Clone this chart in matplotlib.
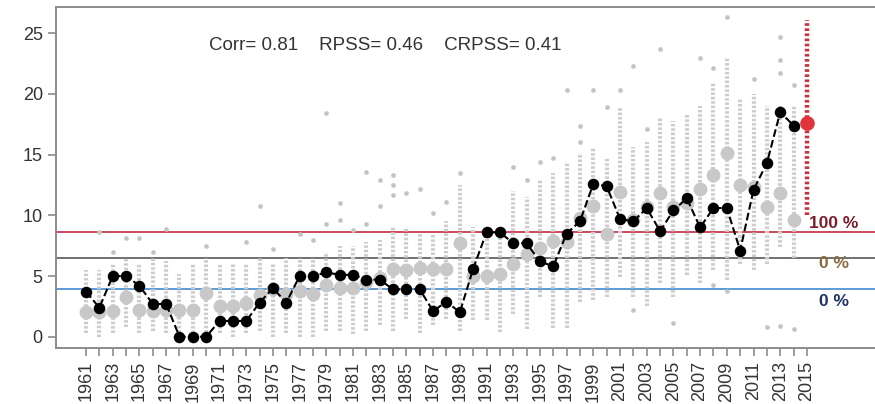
import numpy as np
import matplotlib
matplotlib.use('Agg')
import matplotlib.pyplot as plt

plt.rcParams['font.family'] = ['Liberation Sans', 'DejaVu Sans']

# observed index, 1961-2014
years = np.arange(1961, 2015)
obs = [3.7, 2.4, 5.0, 5.0, 4.2, 2.7, 2.7, 0.0, 0.0, 0.0,
       1.3, 1.3, 1.3, 2.8, 4.0, 2.8, 5.0, 5.0, 5.3, 5.1,
       5.1, 4.7, 4.7, 3.9, 3.9, 3.9, 2.1, 2.9, 2.0, 5.6,
       8.6, 8.6, 7.7, 7.7, 6.2, 5.8, 8.5, 9.5, 12.6, 12.4,
       9.7, 9.5, 10.6, 8.7, 10.4, 11.4, 9.0, 10.6, 10.6, 7.1,
       12.1, 14.3, 18.5, 17.4]

# hindcast ensemble: mean and the dense part of the spread
ens_mean = [2.0, 2.0, 2.1, 3.3, 2.2, 2.1, 2.2, 2.2, 2.2, 3.6,
            2.5, 2.5, 2.8, 3.4, 3.9, 3.5, 3.8, 3.5, 4.3, 4.0,
            4.0, 4.5, 4.8, 5.6, 5.5, 5.7, 5.6, 5.6, 7.7, 5.0,
            5.0, 5.2, 6.0, 6.8, 7.3, 7.9, 7.8, 9.8, 10.8, 8.5,
            11.9, 9.6, 10.7, 11.8, 10.7, 11.0, 12.2, 13.3, 15.1, 12.5,
            12.3, 10.7, 11.8, 9.6]
ens_lo = [0.3, 0.0, 0.3, 0.8, 0.3, 0.5, 0.3, 0.0, 0.3, 0.0,
          0.3, 0.0, 0.3, 0.5, 0.0, 0.3, 0.0, 0.0, 0.5, 0.5,
          0.2, 0.5, 1.0, 0.5, 1.5, 0.3, 1.0, 1.5, 0.5, 1.4,
          1.4, 0.4, 1.9, 0.6, 3.3, 0.7, 0.7, 2.9, 3.0, 3.3,
          4.9, 3.3, 2.5, 4.4, 3.3, 5.1, 4.4, 5.5, 4.7, 6.0,
          5.5, 6.0, 7.4, 6.5]
ens_hi = [5.5, 5.5, 6.0, 6.5, 6.0, 6.5, 6.2, 5.2, 6.0, 6.5,
          6.0, 6.0, 6.0, 6.5, 6.0, 6.5, 6.5, 6.5, 7.0, 7.5,
          7.5, 7.8, 8.0, 9.0, 9.0, 8.5, 8.5, 9.5, 12.5, 9.0,
          8.5, 9.0, 12.0, 11.5, 13.0, 13.5, 14.4, 15.1, 15.6, 14.8,
          18.9, 15.6, 16.0, 18.1, 17.8, 18.3, 19.0, 21.0, 23.0, 19.7,
          20.0, 19.0, 19.0, 19.0]

# single members lying apart from the rest
out_year = [1962, 1963, 1964, 1965, 1966, 1967, 1970, 1973, 1974, 1975,
            1977, 1978, 1979, 1979, 1980, 1980, 1981, 1982, 1982, 1983,
            1983, 1984, 1984, 1984, 1985, 1986, 1987, 1988, 1989, 1993,
            1994, 1995, 1996, 1997, 1998, 1998, 1999, 2000, 2001, 2002,
            2002, 2003, 2004, 2005, 2007, 2008, 2008, 2009, 2009, 2011,
            2012, 2013, 2013, 2013, 2013, 2014, 2014]
out_val = [8.6, 7.0, 8.1, 8.1, 7.0, 8.9, 7.5, 7.8, 10.8, 7.2,
           8.5, 8.0, 9.3, 18.4, 9.6, 11.0, 8.8, 9.3, 13.6, 10.8,
           12.9, 11.7, 12.5, 13.3, 11.8, 12.2, 10.2, 11.1, 13.5, 14.0,
           12.9, 14.4, 14.7, 20.3, 17.4, 16.0, 20.3, 18.9, 20.3, 22.3,
           2.2, 17.1, 23.7, 1.1, 23.0, 22.1, 4.3, 26.3, 3.8, 21.2,
           0.8, 24.7, 22.8, 21.7, 0.9, 20.7, 0.6]

# 2015 forecast
fc_year = 2015
fc_lo, fc_hi, fc_mean = 10.0, 26.1, 17.6

# category thresholds and probabilities
thresholds = [8.6, 6.45, 3.95]
thr_colors = ['#cc4a5c', '#707070', '#5b9bd5']
prob_labels = ['100 %', '0 %', '0 %']
prob_colors = ['#7a1e2c', '#8a6a3c', '#1e3268']
prob_y = [9.3, 6.0, 2.9]

scores = 'Corr= 0.81    RPSS= 0.46    CRPSS= 0.41'

fig = plt.figure(figsize=(8.75, 4.04), dpi=100)
ax = fig.add_axes([0.064, 0.1386, 0.936, 0.844])

for t, c in zip(thresholds, thr_colors):
    ax.axhline(t, color=c, lw=1.4, zorder=1)

grey = '#cdcdcd'
ax.vlines(years, ens_lo, ens_hi, colors=grey, lw=3, linestyles=(0, (0.6, 0.45)), zorder=2)
ax.plot(out_year, out_val, 'o', color='#c4c4c4', ms=3.4, mec='none', zorder=2)
ax.plot(years, ens_mean, 'o', color='#c8c8c8', ms=10, mec='none', zorder=3)

ax.vlines([fc_year], [fc_lo], [fc_hi], colors='#c8303a', lw=3.2, linestyles=(0, (0.6, 0.55)), zorder=3)
ax.plot([fc_year], [fc_mean], 'o', color='#e0343a', ms=10.5, mec='none', zorder=4)

ax.plot(years, obs, '--', color='black', lw=1.5, zorder=4)
ax.plot(years, obs, 'o', color='black', ms=8.3, mec='none', zorder=5)

for lab, c, yv in zip(prob_labels, prob_colors, prob_y):
    ax.text(2017.0, yv, lab, color=c, fontsize=12.5, fontweight='bold', ha='center', va='center')

ax.text(1983.4, 24.0, scores, fontsize=13.5, color='#333333', ha='center', va='center')

ax.set_xlim(1958.75, 2020.1)
ax.set_ylim(-0.93, 27.16)
ax.set_yticks([0, 5, 10, 15, 20, 25])
ax.set_xticks(np.arange(1961, 2016))
ax.set_xticklabels([str(y) if (y - 1961) % 2 == 0 else '' for y in range(1961, 2016)], rotation=90)

for s in ['left', 'bottom', 'top']:
    ax.spines[s].set_color('#8c8c8c')
    ax.spines[s].set_linewidth(1.4)
ax.spines['right'].set_visible(False)
ax.tick_params(colors='#8c8c8c', labelcolor='#333333', labelsize=13, length=6, width=1.2)

fig.savefig('out.png', dpi=100)
